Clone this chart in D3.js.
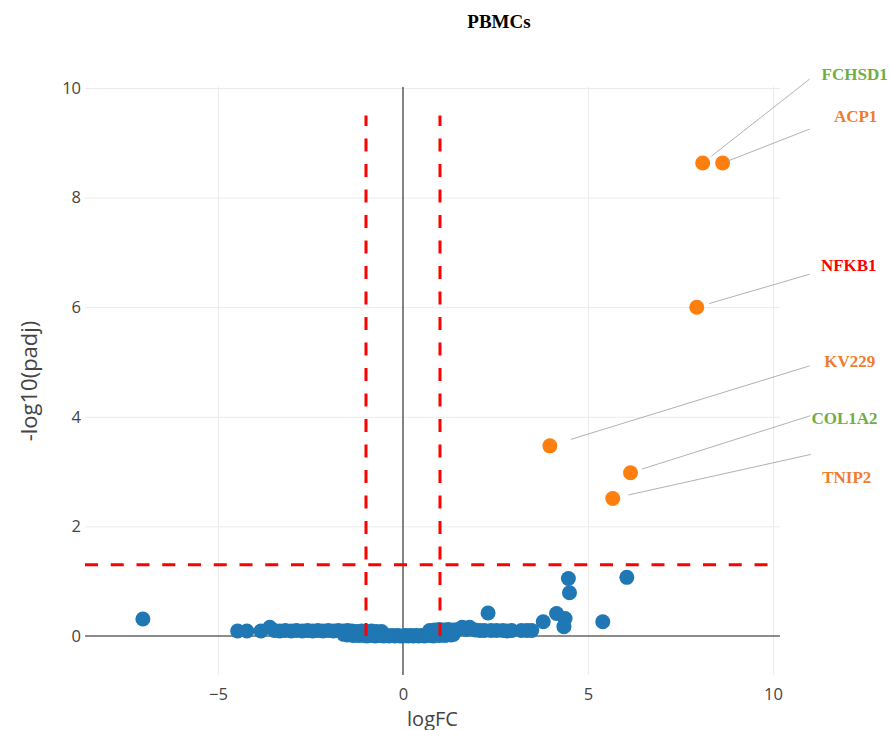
<!DOCTYPE html>
<html><head><meta charset="utf-8">
<script src="https://cdn.jsdelivr.net/npm/d3@7"></script>
<style>body{margin:0;background:#fff}</style>
</head><body><svg id="chart" width="890" height="730"></svg>
<script>
// ---- data ----
const title = "PBMCs";
const xTitle = "logFC";
const yTitle = "-log10(padj)";
const xTicks = [-5, 0, 5, 10];
const yTicks = [0, 2, 4, 6, 8, 10];
const fcCutoffs = [-1, 1];
const padjCutoff = 1.3;
const cutoffTop = 9.5;

// significant genes (orange)
const sigGenes = ["FCHSD1", "ACP1", "NFKB1", "KV229", "COL1A2", "TNIP2"];
const sigLogFC = [8.10, 8.64, 7.94, 3.97, 6.15, 5.67];
const sigNegLogPadj = [8.63, 8.63, 6.00, 3.47, 2.98, 2.51];
const sigLabelColors = ["#70ad47", "#ed7d31", "#ff0000", "#ed7d31", "#70ad47", "#ed7d31"];

// non-significant genes (blue)
const bgLogFC = [
  -7.03,
  -4.47, -4.22, -3.84, -3.60, -3.48, -3.33, -3.18, -3.02, -2.88, -2.72, -2.58, -2.44, -2.30, -2.16,
  -2.02, -1.88, -1.75, -1.62, -1.50, -1.38, -1.25, -1.12, -0.98, -0.85, -0.72, -0.58,
  -1.60, -1.50, -1.42, -1.35, -1.28, -1.20, -1.12, -1.05, -0.98, -0.90, -0.82, -0.75, -0.68, -0.60,
  -0.52, -0.45, -0.38, -0.30, -0.22, -0.15, -0.08, 0.00, 0.07, 0.14, 0.21, 0.28, 0.35, 0.42, 0.50,
  0.58, 0.66, 0.74, 0.82, 0.90, 0.98, 1.06, 1.14, 1.22, 1.30, 1.36,
  0.72, 0.85, 0.98, 1.10, 1.22, 1.35, 1.48, 1.60, 1.72, 1.80, 1.95, 2.08, 2.20, 2.30, 2.38, 2.53,
  2.70, 2.82, 2.94, 3.20, 3.35, 3.48,
  3.79, 4.15, 4.38, 4.35, 4.47, 4.50, 5.40, 6.05
];
const bgNegLogPadj = [
  0.31,
  0.09, 0.09, 0.09, 0.16, 0.10, 0.09, 0.10, 0.09, 0.10, 0.09, 0.10, 0.09, 0.10, 0.09,
  0.10, 0.09, 0.10, 0.09, 0.10, 0.09, 0.08, 0.09, 0.08, 0.09, 0.08, 0.08,
  0.03, 0.02, 0.03, 0.01, 0.02, 0.01, 0.02, 0.01, 0.00, 0.02, 0.01, 0.00, 0.02, 0.01,
  0.00, 0.01, 0.00, 0.01, 0.00, 0.01, 0.00, 0.00, 0.01, 0.00, 0.01, 0.00, 0.01, 0.00, 0.01,
  0.00, 0.02, 0.01, 0.00, 0.02, 0.01, 0.02, 0.01, 0.03, 0.02, 0.03,
  0.10, 0.11, 0.12, 0.11, 0.12, 0.11, 0.12, 0.16, 0.12, 0.16, 0.11, 0.10, 0.10, 0.42, 0.10, 0.10,
  0.10, 0.09, 0.10, 0.10, 0.10, 0.10,
  0.26, 0.41, 0.32, 0.17, 1.05, 0.79, 0.26, 1.07
];

// annotation layout (pixel offsets of label centre from its point, arrow tail offsets, standoff)
const annDx = [152, 133, 152, 300, 214, 234];
const annDy = [-89, -47, -42, -84, -54, -21];
const annTailX = [-45, -46, -39, -40, -34, -36];
const annTailY = [5, 13, 9, 4, -3, -23];
const annStandoff = [11, 6, 13, 22, 12, 16];

// ---- chart ----
const svg = d3.select("#chart");
const plot = {left: 85, right: 780, top: 87, bottom: 675};
const x = d3.scaleLinear().domain([-8.595, 10.19]).range([plot.left, plot.right]);
const y = d3.scaleLinear().domain([-0.712, 10.018]).range([plot.bottom, plot.top]);
const tickFont = "'Open Sans', 'Noto Sans', sans-serif";

// grid
const gx = svg.append("g").attr("transform", `translate(0,${plot.bottom})`)
  .call(d3.axisBottom(x).tickValues(xTicks.filter(d => d !== 0)).tickSize(-(plot.bottom - plot.top)).tickFormat(""));
const gy = svg.append("g").attr("transform", `translate(${plot.left},0)`)
  .call(d3.axisLeft(y).tickValues(yTicks.filter(d => d !== 0)).tickSize(-(plot.right - plot.left)).tickFormat(""));
[gx, gy].forEach(g => {
  g.select(".domain").remove();
  g.selectAll("line").attr("stroke", "#ebebeb").attr("stroke-width", 1);
});

// tick labels
const xl = svg.append("g").attr("transform", `translate(0,${plot.bottom})`)
  .call(d3.axisBottom(x).tickValues(xTicks).tickSize(0).tickPadding(13).tickFormat(d => d < 0 ? "\u2212" + Math.abs(d) : d));
const yl = svg.append("g").attr("transform", `translate(${plot.left},0)`)
  .call(d3.axisLeft(y).tickValues(yTicks).tickSize(0).tickPadding(4));
[xl, yl].forEach(g => {
  g.select(".domain").remove();
  g.selectAll("text").attr("font-family", tickFont).attr("font-size", 16.5).attr("fill", "#444");
});

// zero lines
svg.append("line").attr("x1", plot.left).attr("x2", plot.right).attr("y1", y(0)).attr("y2", y(0))
  .attr("stroke", "#666").attr("stroke-width", 1.5);
svg.append("line").attr("x1", x(0)).attr("x2", x(0)).attr("y1", plot.top).attr("y2", plot.bottom)
  .attr("stroke", "#333").attr("stroke-width", 1.2);

// points
const bg = bgLogFC.map((v, i) => ({fc: v, p: bgNegLogPadj[i]}));
svg.append("g").selectAll("circle").data(bg).join("circle")
  .attr("cx", d => x(d.fc)).attr("cy", d => y(d.p)).attr("r", 7.5).attr("fill", "#1f77b4");
const sig = sigGenes.map((g, i) => ({gene: g, fc: sigLogFC[i], p: sigNegLogPadj[i], color: sigLabelColors[i], i}));
svg.append("g").selectAll("circle").data(sig).join("circle")
  .attr("cx", d => x(d.fc)).attr("cy", d => y(d.p)).attr("r", 7.5).attr("fill", "#ff7f0e");

// cut-off lines
fcCutoffs.forEach(c => {
  svg.append("line").attr("x1", x(c)).attr("x2", x(c)).attr("y1", y(0)).attr("y2", y(cutoffTop))
    .attr("stroke", "#ff0000").attr("stroke-width", 3).attr("stroke-dasharray", "13,12.5");
});
svg.append("line").attr("x1", plot.left).attr("x2", plot.right).attr("y1", y(padjCutoff)).attr("y2", y(padjCutoff))
  .attr("stroke", "#ff0000").attr("stroke-width", 3).attr("stroke-dasharray", "13,12.75");

// annotations
sig.forEach(d => {
  const px = x(d.fc), py = y(d.p);
  const lx = px + annDx[d.i], ly = py + annDy[d.i];
  const tx = lx + annTailX[d.i], ty = ly + annTailY[d.i];
  const len = Math.hypot(tx - px, ty - py);
  const hx = px + (tx - px) / len * annStandoff[d.i], hy = py + (ty - py) / len * annStandoff[d.i];
  svg.append("line").attr("x1", tx).attr("y1", ty).attr("x2", hx).attr("y2", hy)
    .attr("stroke", "#a8a8a8").attr("stroke-width", 0.9);
  svg.append("text").attr("x", lx).attr("y", ly).attr("text-anchor", "middle").attr("dominant-baseline", "central")
    .attr("font-family", "'Liberation Serif', 'Times New Roman', serif").attr("font-weight", "bold")
    .attr("font-size", 17).attr("fill", d.color).text(d.gene);
});

// titles
svg.append("text").attr("x", 499).attr("y", 21).attr("text-anchor", "middle").attr("dominant-baseline", "central")
  .attr("font-family", "'Liberation Serif', 'Times New Roman', serif").attr("font-weight", "bold")
  .attr("font-size", 19).attr("fill", "#000").text(title);
svg.append("text").attr("x", (plot.left + plot.right) / 2).attr("y", 718).attr("text-anchor", "middle")
  .attr("dominant-baseline", "central").attr("font-family", tickFont).attr("font-size", 20).attr("fill", "#444").text(xTitle);
svg.append("text").attr("transform", `translate(28,${(plot.top + plot.bottom) / 2}) rotate(-90)`)
  .attr("text-anchor", "middle").attr("dominant-baseline", "central")
  .attr("font-family", tickFont).attr("font-size", 22).attr("fill", "#444").text(yTitle);
</script></body></html>
